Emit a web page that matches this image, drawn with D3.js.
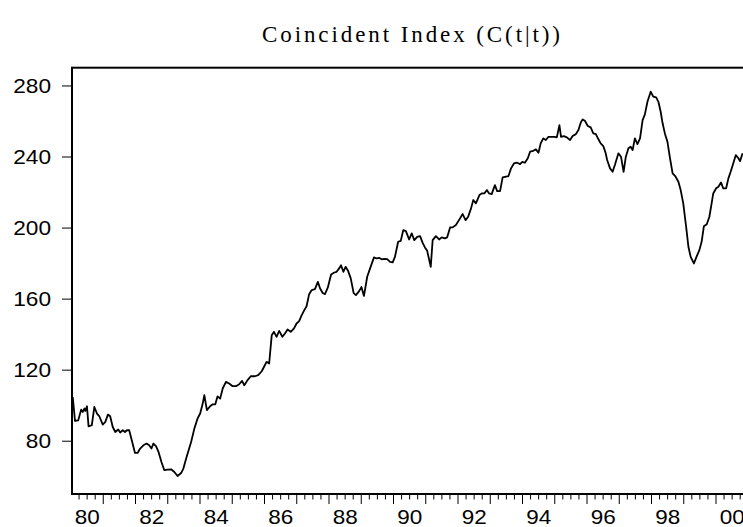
<!DOCTYPE html>
<html>
<head>
<meta charset="utf-8">
<script src="https://cdn.jsdelivr.net/npm/d3@7"></script>
<style>
  body{margin:0;background:#fff;}
  .axis text{font-family:"Liberation Sans",Arial,sans-serif;fill:#000;}
</style>
</head>
<body>
<div id="canvas" class="canvas" style="width:743px;height:527px;"></div>
<script>
//data, monthly-ish (decimal year, index value)
var years = [1980.07,1980.14,1980.24,1980.33,1980.38,1980.43,1980.46,1980.51,1980.56,1980.66,
  1980.74,1980.82,1980.89,1981.00,1981.08,1981.16,1981.23,1981.31,1981.39,1981.48,
  1981.54,1981.62,1981.69,1981.75,1981.82,1981.90,1982.00,1982.08,1982.16,1982.26,
  1982.36,1982.44,1982.51,1982.57,1982.65,1982.73,1982.82,1982.91,1983.01,1983.12,
  1983.22,1983.32,1983.43,1983.50,1983.60,1983.74,1983.84,1983.94,1984.02,1984.10,
  1984.15,1984.23,1984.33,1984.41,1984.49,1984.56,1984.64,1984.72,1984.82,1984.92,
  1985.03,1985.13,1985.23,1985.32,1985.39,1985.49,1985.59,1985.72,1985.82,1985.93,
  1986.01,1986.08,1986.16,1986.24,1986.31,1986.39,1986.47,1986.57,1986.65,1986.73,
  1986.83,1986.93,1987.01,1987.09,1987.17,1987.25,1987.32,1987.40,1987.48,1987.58,
  1987.67,1987.74,1987.82,1987.89,1987.98,1988.08,1988.18,1988.25,1988.33,1988.39,
  1988.46,1988.53,1988.61,1988.69,1988.78,1988.85,1988.95,1989.02,1989.10,1989.20,
  1989.29,1989.41,1989.49,1989.58,1989.65,1989.73,1989.82,1989.91,1989.99,1990.06,
  1990.16,1990.24,1990.32,1990.40,1990.50,1990.58,1990.66,1990.75,1990.84,1990.92,
  1990.99,1991.06,1991.17,1991.23,1991.33,1991.43,1991.51,1991.61,1991.68,1991.77,
  1991.85,1991.95,1992.06,1992.16,1992.25,1992.33,1992.42,1992.49,1992.57,1992.68,
  1992.75,1992.83,1992.91,1992.98,1993.06,1993.16,1993.23,1993.32,1993.40,1993.47,
  1993.58,1993.66,1993.75,1993.85,1993.94,1994.01,1994.09,1994.18,1994.25,1994.35,
  1994.43,1994.51,1994.58,1994.66,1994.74,1994.82,1994.92,1995.00,1995.08,1995.16,
  1995.21,1995.30,1995.39,1995.49,1995.57,1995.67,1995.75,1995.82,1995.88,1995.95,
  1996.04,1996.13,1996.21,1996.29,1996.37,1996.44,1996.52,1996.59,1996.64,1996.73,
  1996.81,1996.88,1996.99,1997.07,1997.15,1997.22,1997.30,1997.37,1997.43,1997.50,
  1997.58,1997.66,1997.74,1997.81,1997.89,1997.99,1998.07,1998.16,1998.23,1998.30,
  1998.36,1998.43,1998.51,1998.59,1998.67,1998.75,1998.85,1998.92,1999.00,1999.09,
  1999.16,1999.23,1999.33,1999.42,1999.50,1999.57,1999.64,1999.73,1999.81,1999.88,
  1999.93,2000.02,2000.09,2000.17,2000.24,2000.33,2000.40,2000.47,2000.55,2000.63,
  2000.71,2000.76,2000.84];

var values = [104.6,91.1,91.5,97.5,96.2,98.1,96.8,99.4,88.1,88.7,
  99.0,95.3,93.9,89.1,90.6,94.7,93.8,87.7,84.9,86.3,
  84.6,85.9,84.9,85.9,85.9,80.3,73.1,73.1,75.6,77.4,
  78.4,77.4,75.6,78.4,76.9,73.7,68.0,63.4,63.7,63.9,
  62.4,60.1,61.8,64.3,70.8,79.3,86.8,92.5,95.3,100.9,
  105.6,97.2,99.4,100.5,100.5,105.0,103.7,109.4,113.1,112.2,
  110.7,110.7,111.8,113.7,111.2,114.1,116.3,116.3,116.9,119.1,
  121.9,124.4,123.5,139.4,141.3,138.5,141.8,138.5,140.4,142.6,
  141.3,143.2,146.0,147.3,150.7,153.5,155.7,162.5,164.8,165.3,
  169.4,165.7,163.2,162.5,166.3,173.6,174.7,175.1,177.0,178.8,
  175.1,177.9,175.5,171.4,163.1,162.0,164.2,166.5,161.5,172.3,
  177.0,183.2,182.6,182.9,182.1,182.4,182.2,180.7,180.4,183.5,
  192.0,192.5,198.6,198.0,193.3,196.7,192.9,194.8,195.2,191.4,
  188.8,186.9,177.9,192.9,195.2,193.3,194.5,193.9,194.5,200.1,
  200.1,201.4,204.6,207.6,204.2,206.1,210.8,215.5,213.6,218.3,
  219.2,219.2,221.1,219.2,218.8,223.9,220.5,220.5,228.3,228.6,
  229.0,233.3,236.1,236.5,235.7,237.0,236.5,239.0,242.7,243.2,
  244.0,242.1,247.4,250.2,249.3,251.1,251.1,251.1,250.8,257.7,
  251.1,251.5,250.8,249.3,251.5,252.6,254.9,259.0,260.9,260.1,
  257.2,256.4,253.0,252.6,249.7,247.4,245.9,242.2,238.0,233.3,
  231.4,235.2,241.8,239.9,231.4,239.9,244.6,245.5,243.6,250.2,
  247.0,250.2,260.5,263.7,270.8,276.5,273.7,273.3,270.8,265.2,
  258.7,253.0,248.3,239.0,230.5,229.0,225.8,221.1,213.6,200.4,
  189.2,183.5,179.8,183.9,187.3,192.0,200.8,201.9,206.1,213.6,
  219.2,222.1,223.0,225.4,222.1,222.1,227.7,231.4,236.1,240.8,
  239.0,237.4,241.8];

var yTicks = [80,120,160,200,240,280];
var xLabelYears = [1980,1982,1984,1986,1988,1990,1992,1994,1996,1998,2000];
var xLabels = ['80','82','84','86','88','90','92','94','96','98','00'];

var series = years.map(function(d,i){return {t:d, v:values[i]};});

//1, svg + margins
var outerWidth = 743, outerHeight = 527;
var m = {t:67.7, l:72, b:33};

var svg = d3.select('.canvas')
    .append('svg')
    .attr('width',outerWidth)
    .attr('height',outerHeight);

//2, scales (plot runs a bit past the right edge of the window)
var scaleX = d3.scaleLinear()
    .domain([1980,2001])
    .range([70.5,747.75]);

var scaleY = d3.scaleLinear()
    .domain([50,290])
    .range([494,m.t]);

var h = scaleY(50) - m.t;

//3, title
svg.append('text')
    .attr('x',411)
    .attr('y',42)
    .attr('text-anchor','middle')
    .attr('textLength',298)
    .attr('lengthAdjust','spacing')
    .style('font-family','"Liberation Serif","Times New Roman",serif')
    .style('font-size','23px')
    .text('Coincident Index (C(t|t))');

//4, y axis
var axisY = d3.axisLeft(scaleY)
    .tickValues(yTicks)
    .tickSize(10)
    .tickPadding(11);

var gy = svg.append('g').attr('class','axis')
    .attr('transform','translate(' + m.l + ',0)')
    .call(axisY);
gy.select('.domain').remove();
// stretched a bit wider than plain Arial, like the original
gy.selectAll('text')
    .style('font-size','21px')
    .attr('textLength',function(d){return String(d).length * 12.6;})
    .attr('lengthAdjust','spacingAndGlyphs');
gy.selectAll('line').attr('stroke','#000').attr('stroke-width',1);

//5, x axis: quarterly minor ticks, yearly major ticks, labels in mid-year
var quarters = d3.range(1980,2001.01,0.25).filter(function(d){return d % 1 != 0;});
var wholeYears = d3.range(1981,2001);

var gMinor = svg.append('g').attr('class','axis')
    .attr('transform','translate(0,' + scaleY(50) + ')')
    .call(d3.axisBottom(scaleX).tickValues(quarters).tickSize(5.5).tickFormat(''));
var gMajor = svg.append('g').attr('class','axis')
    .attr('transform','translate(0,' + scaleY(50) + ')')
    .call(d3.axisBottom(scaleX).tickValues(wholeYears).tickSize(10).tickFormat(''));

var gLab = svg.append('g').attr('class','axis')
    .attr('transform','translate(0,' + scaleY(50) + ')')
    .call(d3.axisBottom(scaleX)
        .tickValues(xLabelYears.map(function(d){return d + 0.5;}))
        .tickSize(0)
        .tickPadding(15)
        .tickFormat(function(d,i){return xLabels[i];}));
gLab.selectAll('text')
    .style('font-size','21px')
    .attr('textLength',25)
    .attr('lengthAdjust','spacingAndGlyphs');

[gMinor,gMajor,gLab].forEach(function(g){
    g.select('.domain').remove();
    g.selectAll('line').attr('stroke','#000').attr('stroke-width',1);
});

//6, frame
svg.append('rect')
    .attr('x',m.l)
    .attr('y',m.t)
    .attr('width',scaleX(2001) - m.l)
    .attr('height',h)
    .attr('fill','none')
    .attr('stroke','#000')
    .attr('stroke-width',2);

//7, the line
var line = d3.line()
    .x(function(d){return scaleX(d.t);})
    .y(function(d){return scaleY(d.v);});

svg.append('path')
    .datum(series)
    .attr('d',line)
    .attr('fill','none')
    .attr('stroke','#000')
    .attr('stroke-width',1.8)
    .attr('stroke-linejoin','round');
</script>
</body>
</html>
